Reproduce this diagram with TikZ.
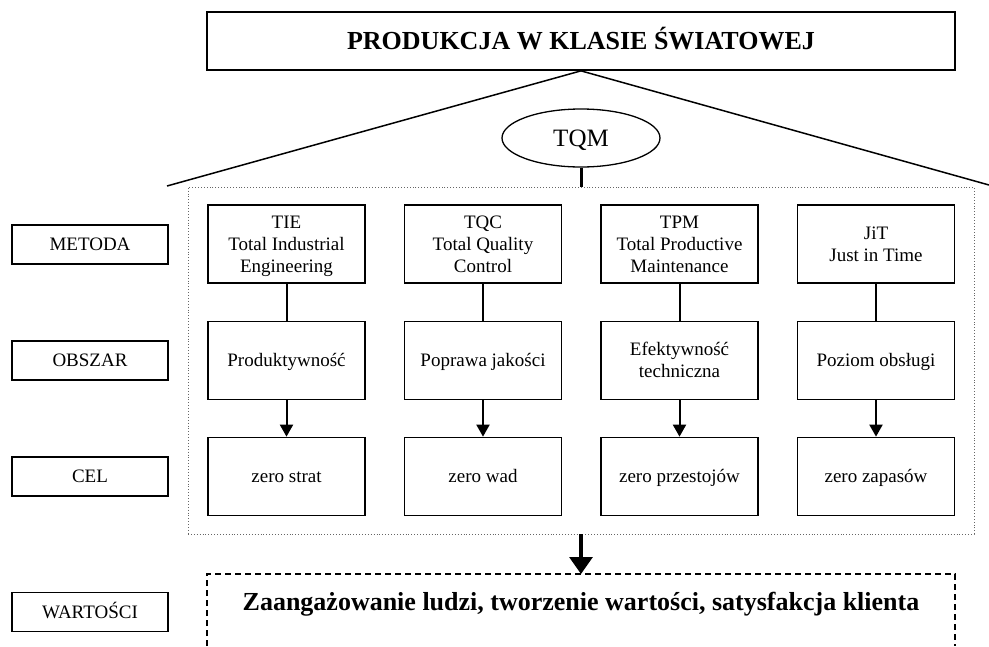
\documentclass[tikz,border=0pt]{standalone}
\usepackage{fontspec}
\setmainfont{Liberation Serif}
\usetikzlibrary{arrows.meta,shapes.geometric}
\newcommand{\Lx}{\vphantom{Ág}}
\begin{document}
\begin{tikzpicture}[x=1pt,y=-1pt,
  box/.style={draw, line width=1.7pt, inner sep=0pt, minimum width=157pt, minimum height=78pt, align=center, font=\fontsize{19}{22}\selectfont},
  lbl/.style={draw, line width=1.7pt, inner sep=0pt, minimum width=156pt, minimum height=39pt, align=center, font=\fontsize{19}{22}\selectfont},
  plainline/.style={line width=2pt},
  arr/.style={line width=2pt, -{Triangle[width=13pt,length=12pt]}},
  bigarr/.style={line width=3.2pt, -{Triangle[width=23pt,length=17pt]}},
  bigtext/.style={font=\fontsize{26}{30}\selectfont\bfseries}
]
\useasboundingbox (0,0) rectangle (989,646);

% title
\node[draw, line width=1.7pt, minimum width=748pt, minimum height=58pt, inner sep=0pt, bigtext] (title) at (581,41) {\Lx PRODUKCJA W KLASIE ŚWIATOWEJ};

% roof
\coordinate (roofL) at (167,186);
\coordinate (roofR) at (989,185);
\draw[line width=1.5pt] (roofL) -- (title.south) -- (roofR);

% frame
\node[draw=black!60, dotted, line width=0.9pt, minimum width=786pt, minimum height=347pt, inner sep=0pt] (frame) at (581,360.5) {};

% TQM
\node[draw, ellipse, line width=1.3pt, minimum width=158pt, minimum height=58pt, inner sep=0pt, font=\fontsize{25}{28}\selectfont] (tqm) at (581,138) {\Lx TQM};
\draw[line width=3pt] (tqm.south) -- (tqm.south |- frame.north);

% left labels
\node[lbl] (lm) at (90,244.5) {\Lx METODA};
\node[lbl] (lo) at (90,360.5) {\Lx OBSZAR};
\node[lbl] (lc) at (90,476.5) {\Lx CEL};
\node[lbl] (lw) at (90,612) {\Lx WARTOŚCI};

% methods
\node[box] (m1) at (286.5,244) {\Lx TIE\\\Lx Total Industrial\\\Lx Engineering};
\node[box] (m2) at (483,244) {\Lx TQC\\\Lx Total Quality\\\Lx Control};
\node[box] (m3) at (679.5,244) {\Lx TPM\\\Lx Total Productive\\\Lx Maintenance};
\node[box] (m4) at (876,244) {\Lx JiT\\\Lx Just in Time};

% areas
\node[box] (a1) at (286.5,360.5) {\Lx Produktywność};
\node[box] (a2) at (483,360.5) {\Lx Poprawa jakości};
\node[box] (a3) at (679.5,360.5) {\Lx Efektywność\\\Lx techniczna};
\node[box] (a4) at (876,360.5) {\Lx Poziom obsługi};

% goals
\node[box] (g1) at (286.5,476.5) {\Lx zero strat};
\node[box] (g2) at (483,476.5) {\Lx zero wad};
\node[box] (g3) at (679.5,476.5) {\Lx zero przestojów};
\node[box] (g4) at (876,476.5) {\Lx zero zapasów};

\foreach \i in {1,2,3,4} {
  \draw[plainline] (m\i) -- (a\i);
  \draw[arr] (a\i) -- (g\i);
}

% values
\coordinate (vtop) at (581,574);
\draw[line width=1.5pt, dash pattern=on 6pt off 4pt] (207,646) |- (955,574) -- (955,646);
\node[bigtext, anchor=base] (val) at (581,610) {Zaangażowanie ludzi, tworzenie wartości, satysfakcja klienta};
\draw[bigarr] (frame.south) -- (vtop);
\end{tikzpicture}
\end{document}
